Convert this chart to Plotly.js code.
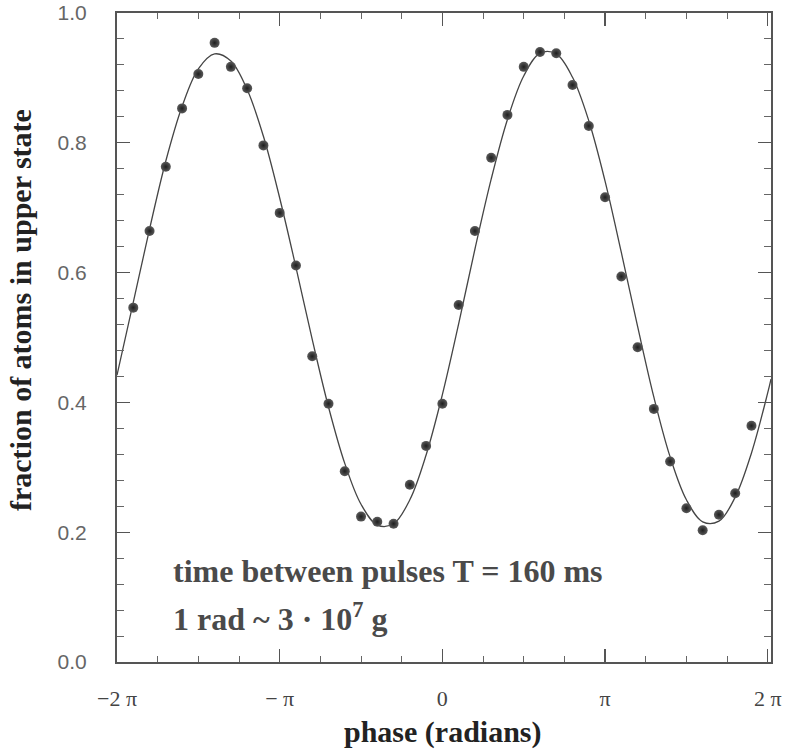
<!DOCTYPE html>
<html>
<head>
<meta charset="utf-8">
<script src="https://cdn.plot.ly/plotly-3.0.1.min.js"></script>
<style>
  html, body { margin: 0; padding: 0; background: #ffffff; }
  #chart { width: 786px; height: 751px; }
</style>
</head>
<body>
<div id="chart"></div>
<script>
// phase in units of pi
const phaseData = [-1.9, -1.8, -1.7, -1.6, -1.5, -1.4, -1.3, -1.2, -1.1, -1.0,
                   -0.9, -0.8, -0.7, -0.6, -0.5, -0.4, -0.3, -0.2, -0.1, 0.0,
                   0.1, 0.2, 0.3, 0.4, 0.5, 0.6, 0.7, 0.8, 0.9, 1.0,
                   1.1, 1.2, 1.3, 1.4, 1.5, 1.6, 1.7, 1.8, 1.9];
const fractionData = [0.546, 0.664, 0.763, 0.853, 0.906, 0.954, 0.917, 0.884, 0.796, 0.692,
                      0.611, 0.471, 0.398, 0.294, 0.224, 0.216, 0.213, 0.273, 0.333, 0.398,
                      0.550, 0.664, 0.777, 0.843, 0.917, 0.940, 0.938, 0.889, 0.826, 0.716,
                      0.594, 0.485, 0.390, 0.309, 0.237, 0.203, 0.227, 0.260, 0.364];

// fitted curve
const curvePhase = [-2.0, -1.9, -1.8, -1.7, -1.6, -1.5, -1.4, -1.3, -1.2, -1.1,
                    -1.0, -0.9, -0.8, -0.7, -0.6, -0.5, -0.4, -0.3, -0.2, -0.1,
                    0.0, 0.1, 0.2, 0.3, 0.4, 0.5, 0.6, 0.7, 0.8, 0.9,
                    1.0, 1.1, 1.2, 1.3, 1.4, 1.5, 1.6, 1.7, 1.8, 1.9, 2.0, 2.02];
const curveFraction = [0.442, 0.554, 0.667, 0.772, 0.856, 0.914, 0.937, 0.926, 0.882, 0.810,
                       0.715, 0.608, 0.497, 0.393, 0.306, 0.243, 0.211, 0.213, 0.250, 0.319,
                       0.412, 0.521, 0.636, 0.744, 0.836, 0.903, 0.938, 0.937, 0.901, 0.834,
                       0.741, 0.631, 0.517, 0.408, 0.316, 0.250, 0.216, 0.217, 0.254, 0.322, 0.415, 0.436];

const xTickVals = [-2, -1, 0, 1, 2];
const xTickText = ['\u22122 \u03c0', '\u2212 \u03c0', '0', '\u03c0', '2 \u03c0'];
const yTickVals = [0.0, 0.2, 0.4, 0.6, 0.8, 1.0];
const yTickText = ['0.0', '0.2', '0.4', '0.6', '0.8', '1.0'];

const serif = '"Liberation Serif", "Times New Roman", serif';
const sans = '"Liberation Sans", Arial, sans-serif';

const traces = [
  {
    x: curvePhase, y: curveFraction, type: 'scatter', mode: 'lines',
    line: { color: '#454545', width: 1.3, shape: 'spline', smoothing: 1 },
    hoverinfo: 'skip', showlegend: false
  },
  {
    x: phaseData, y: fractionData, type: 'scatter', mode: 'markers',
    marker: { size: 10, color: '#5a5a5a', gradient: { type: 'radial', color: '#1e1e1e' }, line: { width: 0 } },
    showlegend: false
  }
];

const layout = {
  width: 786, height: 751,
  margin: { l: 117, r: 15, t: 13, b: 89 },
  paper_bgcolor: '#ffffff', plot_bgcolor: '#ffffff',
  showlegend: false,
  xaxis: {
    range: [-2, 2.02], showgrid: false, zeroline: false,
    tickmode: 'array', tickvals: xTickVals, ticktext: xTickText,
    ticks: 'inside', ticklen: 13, tickwidth: 1.2, tickcolor: '#555',
    showline: true, linecolor: '#555', linewidth: 2, mirror: 'allticks',
    ticklabelstandoff: 16,
    tickfont: { family: serif, size: 22, color: '#444' },
    minor: { dtick: 0.25, tick0: 0, ticks: 'inside', ticklen: 6, tickwidth: 1, tickcolor: '#666', showgrid: false }
  },
  yaxis: {
    range: [0, 1], showgrid: false, zeroline: false,
    tickmode: 'array', tickvals: yTickVals, ticktext: yTickText,
    ticks: 'inside', ticklen: 13, tickwidth: 1.2, tickcolor: '#555',
    showline: true, linecolor: '#555', linewidth: 2, mirror: 'allticks',
    ticklabelstandoff: 24,
    tickfont: { family: sans, size: 21, color: '#666' },
    minor: { dtick: 0.04, tick0: 0, ticks: 'inside', ticklen: 7, tickwidth: 1, tickcolor: '#666', showgrid: false }
  },
  annotations: [
    {
      text: 'fraction of atoms in upper state', textangle: -90,
      xref: 'paper', yref: 'paper', x: (20 - 117) / 654, y: (662 - 310) / 649,
      xanchor: 'center', yanchor: 'middle', showarrow: false,
      font: { family: serif, size: 30, color: '#222', weight: 'bold' }
    },
    {
      text: 'phase (radians)',
      xref: 'paper', yref: 'paper', x: (443 - 117) / 654, y: (662 - 732) / 649,
      xanchor: 'center', yanchor: 'middle', showarrow: false,
      font: { family: serif, size: 30, color: '#222', weight: 'bold' }
    },
    {
      text: 'time between pulses T = 160 ms',
      xref: 'paper', yref: 'paper', x: (171 - 117) / 654, y: (662 - 571) / 649,
      xanchor: 'left', yanchor: 'middle', showarrow: false,
      font: { family: serif, size: 32, color: '#4a4a4a', weight: 'bold' }
    },
    {
      text: '1 rad ~ 3 \u00b7 10<sup>7</sup> g',
      xref: 'paper', yref: 'paper', x: (171 - 117) / 654, y: (662 - 617) / 649,
      xanchor: 'left', yanchor: 'middle', showarrow: false,
      font: { family: serif, size: 32, color: '#4a4a4a', weight: 'bold' }
    }
  ]
};

Plotly.newPlot('chart', traces, layout, { displayModeBar: false, staticPlot: true });
</script>
</body>
</html>
